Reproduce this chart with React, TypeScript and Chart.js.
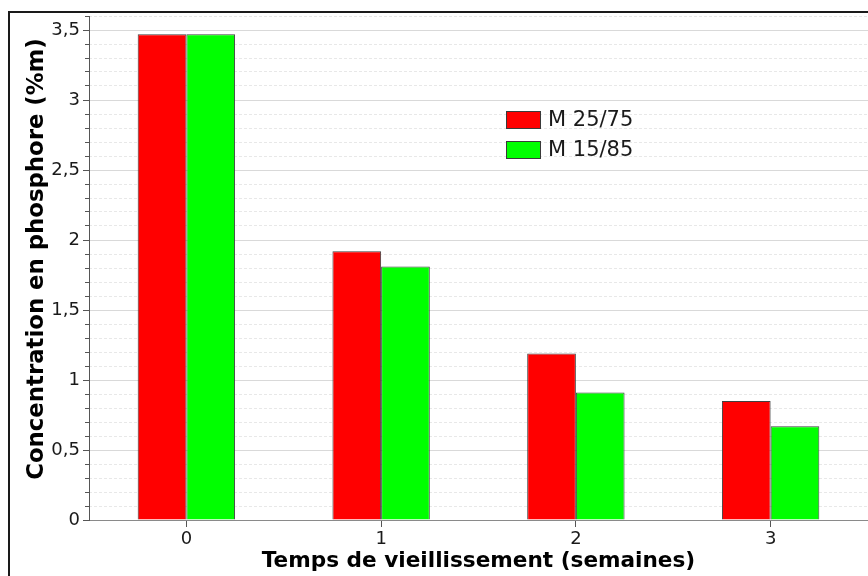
import React, { useEffect, useRef } from "react";
import { Chart, registerables } from "chart.js";

Chart.register(...registerables);

// ---- data ----
const categories: string[] = ["0", "1", "2", "3"];
const seriesNames: string[] = ["M 25/75", "M 15/85"];
const m2575: number[] = [3.47, 1.92, 1.19, 0.85];
const m1585: number[] = [3.47, 1.81, 0.91, 0.67];
const yMin = 0;
const yMax = 3.6;
const yMajorStep = 0.5;
const yMinorStep = 0.1;
const xTitle = "Temps de vieillissement (semaines)";
const yTitle = "Concentration en phosphore (%m)";

const FONT = '"DejaVu Sans", Verdana, sans-serif';

const isMajor = (v: number) => Math.abs(v / yMajorStep - Math.round(v / yMajorStep)) < 1e-6;
const fmt = (v: number) => String(Math.round(v * 10) / 10).replace(".", ",");

const legendPlugin = {
  id: "boxLegend",
  afterDraw(chart: any) {
    const ctx = chart.ctx;
    ctx.save();
    chart.data.datasets.forEach((ds: any, i: number) => {
      const x = 506;
      const y = 111 + i * 30;
      ctx.fillStyle = ds.backgroundColor;
      ctx.fillRect(x, y, 35, 18);
      ctx.strokeStyle = "#3a3a3a";
      ctx.lineWidth = 1;
      ctx.strokeRect(x + 0.5, y + 0.5, 34, 17);
      ctx.fillStyle = "#1a1a1a";
      ctx.font = `21px ${FONT}`;
      ctx.textBaseline = "middle";
      ctx.textAlign = "left";
      ctx.fillText(ds.label, 548, y + 9.5);
    });
    ctx.restore();
  },
};

const yTitlePlugin = {
  id: "yTitle",
  afterDraw(chart: any) {
    const ctx = chart.ctx;
    ctx.save();
    ctx.translate(37, 259);
    ctx.rotate(-Math.PI / 2);
    ctx.fillStyle = "#000";
    ctx.font = `bold 22.8px ${FONT}`;
    ctx.textAlign = "center";
    ctx.textBaseline = "middle";
    ctx.fillText(yTitle, 0, 0);
    ctx.restore();
  },
};

export default function App() {
  const ref = useRef<HTMLCanvasElement | null>(null);

  useEffect(() => {
    if (!ref.current) return;
    const chart = new Chart(ref.current, {
      type: "bar",
      data: {
        labels: categories,
        datasets: [
          {
            label: seriesNames[0],
            data: m2575,
            backgroundColor: "#ff0000",
            borderColor: "#404040",
            borderWidth: 1,
            categoryPercentage: 0.5,
            barPercentage: 1.0,
          },
          {
            label: seriesNames[1],
            data: m1585,
            backgroundColor: "#00ff00",
            borderColor: "#404040",
            borderWidth: 1,
            categoryPercentage: 0.5,
            barPercentage: 1.0,
          },
        ],
      },
      options: {
        animation: false,
        responsive: false,
        maintainAspectRatio: false,
        layout: { padding: { top: 16, left: 0, right: -1, bottom: 0 } },
        plugins: {
          legend: { display: false },
          tooltip: { enabled: false },
        },
        scales: {
          x: {
            type: "category",
            offset: true,
            grid: {
              display: true,
              drawOnChartArea: false,
              drawTicks: true,
              offset: false,
              tickLength: 7,
              tickColor: "#555",
            },
            border: { display: true, color: "#8a8a8a", width: 1 },
            ticks: {
              color: "#1a1a1a",
              font: { family: FONT, size: 18 },
              padding: 2,
              maxRotation: 0,
            },
            title: {
              display: true,
              text: xTitle,
              color: "#000",
              font: { family: FONT, size: 21.6, weight: "bold", lineHeight: 1 },
              padding: { top: 0, bottom: 4 },
            },
            afterFit: (s: any) => {
              s.height = 56;
            },
          },
          yMinor: {
            type: "linear",
            position: "left",
            weight: 0,
            min: yMin,
            max: yMax,
            ticks: { stepSize: yMinorStep, display: false },
            grid: {
              drawOnChartArea: true,
              drawTicks: true,
              tickLength: 4,
              tickColor: "#555",
              color: (c: any) => (c.tick && isMajor(c.tick.value) ? "rgba(0,0,0,0)" : "#e8e8e8"),
            },
            border: { display: false, dash: [3, 2] },
            afterFit: (s: any) => {
              s.width = 0;
            },
          },
          y: {
            type: "linear",
            position: "left",
            weight: 1,
            min: yMin,
            max: yMax,
            ticks: {
              stepSize: yMajorStep,
              includeBounds: false,
              color: "#1a1a1a",
              font: { family: FONT, size: 18 },
              padding: 3,
              callback: (v: any) => fmt(Number(v)),
            },
            grid: {
              drawOnChartArea: true,
              drawTicks: true,
              tickLength: 6,
              tickColor: "#555",
              color: "#d9d9d9",
            },
            border: { display: true, color: "#555", width: 1 },
            title: { display: false },
            afterFit: (s: any) => {
              s.width = 89;
            },
          },
        },
      } as any,
      plugins: [legendPlugin, yTitlePlugin],
    });
    return () => chart.destroy();
  }, []);

  return (
    <div
      style={{
        position: "fixed",
        left: 0,
        top: 0,
        width: 868,
        height: 576,
        overflow: "hidden",
        background: "#fff",
      }}
    >
      <div
        style={{
          position: "absolute",
          left: 8,
          top: 11,
          width: 1000,
          height: 1000,
          border: "2px solid #1a1a1a",
          boxSizing: "border-box",
        }}
      />
      <canvas
        ref={ref}
        width={868}
        height={576}
        style={{ position: "absolute", left: 0, top: 0, width: 868, height: 576, display: "block" }}
      />
    </div>
  );
}
